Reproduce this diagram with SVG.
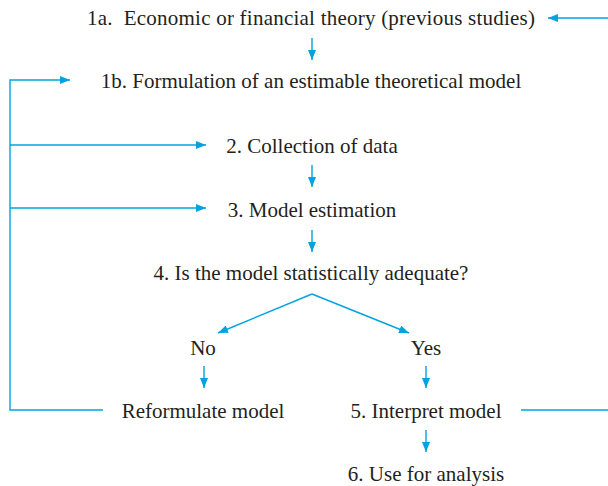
<svg xmlns="http://www.w3.org/2000/svg" width="608" height="486" viewBox="0 0 608 486">
<defs>
<marker id="ah" markerWidth="10" markerHeight="8" refX="10" refY="4" orient="auto" markerUnits="userSpaceOnUse">
<path d="M0,0 L10,4 L0,8 Z" fill="#00a3e0"/>
</marker>
</defs>
<style>
text{font-family:"Liberation Serif","Times New Roman",serif;font-size:21px;fill:#231f20;text-anchor:middle}
.c{stroke:#00a3e0;stroke-width:1.4;fill:none}
.a{marker-end:url(#ah)}
</style>
<rect width="608" height="486" fill="#fff"/>
<g id="connectors">
<line class="c a" x1="608" y1="18" x2="548" y2="18"/>
<line class="c a" x1="312" y1="38" x2="312" y2="60"/>
<polyline class="c a" points="103,410 10,410 10,80 70,80"/>
<line class="c a" x1="10" y1="145" x2="206" y2="145"/>
<line class="c a" x1="10" y1="208" x2="206" y2="208"/>
<line class="c a" x1="312" y1="165" x2="312" y2="187"/>
<line class="c a" x1="312" y1="230" x2="312" y2="252"/>
<line class="c a" x1="312" y1="294" x2="218" y2="333"/>
<line class="c a" x1="312" y1="294" x2="409" y2="333"/>
<line class="c a" x1="204" y1="366" x2="204" y2="388"/>
<line class="c a" x1="426" y1="366" x2="426" y2="388"/>
<line class="c a" x1="426" y1="430" x2="426" y2="452"/>
<line class="c" x1="521" y1="410" x2="608" y2="410"/>
</g>
<g id="n1a"><text x="311" y="25" textLength="448">1a.&#160; Economic or financial theory (previous studies)</text></g>
<g id="n1b"><text x="311" y="88">1b. Formulation of an estimable theoretical model</text></g>
<g id="n2"><text x="312" y="153">2. Collection of data</text></g>
<g id="n3"><text x="312" y="217">3. Model estimation</text></g>
<g id="n4"><text x="311" y="280">4. Is the model statistically adequate?</text></g>
<g id="nNo"><text x="203" y="355">No</text></g>
<g id="nYes"><text x="426" y="355">Yes</text></g>
<g id="nRef"><text x="203" y="418">Reformulate model</text></g>
<g id="n5"><text x="426" y="418">5. Interpret model</text></g>
<g id="n6"><text x="426" y="481">6. Use for analysis</text></g>
</svg>
